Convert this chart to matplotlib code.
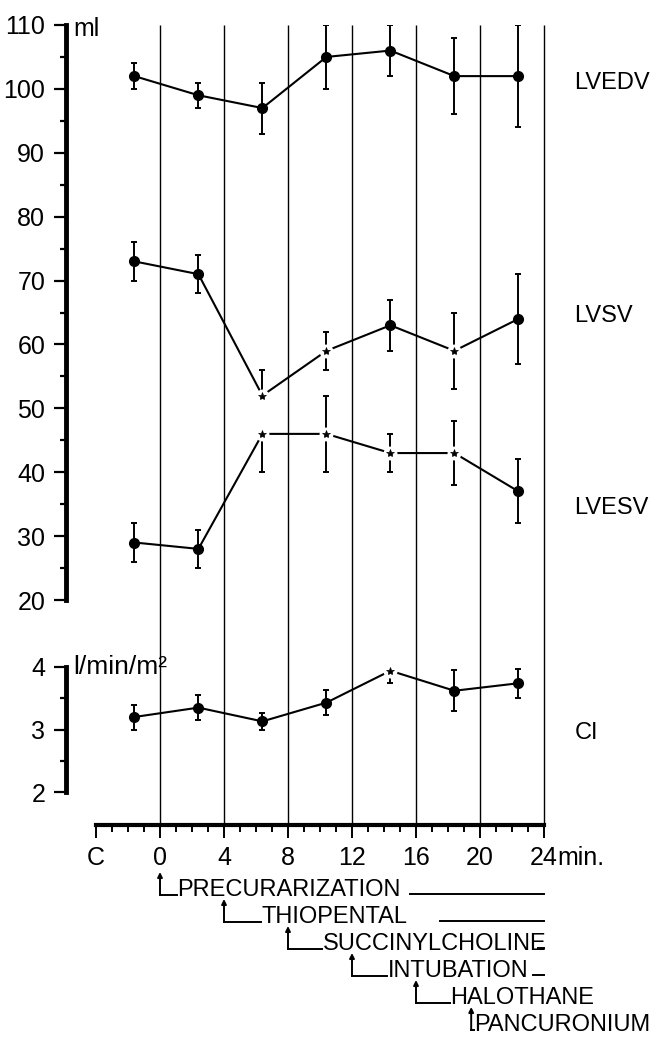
import numpy as np
import matplotlib
matplotlib.use("Agg")
import matplotlib.pyplot as plt
from matplotlib.ticker import MultipleLocator, FixedLocator

plt.rcParams['font.family'] = ['Liberation Sans', 'DejaVu Sans']

# ---- data ----
times = [-1.6, 2.4, 6.4, 10.4, 14.4, 18.4, 22.4]

lvedv = [102, 99, 97, 105, 106, 102, 102]
lvedv_lo = [2, 2, 4, 5, 4, 6, 8]
lvedv_hi = [2, 2, 4, 5, 4, 6, 8]
lvedv_sig = [0, 0, 0, 0, 0, 0, 0]

lvsv = [73, 71, 52, 59, 63, 59, 64]
lvsv_lo = [3, 3, 0, 3, 4, 6, 7]
lvsv_hi = [3, 3, 4, 3, 4, 6, 7]
lvsv_sig = [0, 0, 1, 1, 0, 1, 0]

lvesv = [29, 28, 46, 46, 43, 43, 37]
lvesv_lo = [3, 3, 6, 6, 3, 5, 5]
lvesv_hi = [3, 3, 0, 6, 3, 5, 5]
lvesv_sig = [0, 0, 1, 1, 1, 1, 0]

ci = [3.2, 3.35, 3.13, 3.43, 3.94, 3.62, 3.74]
ci_err = [0.2, 0.2, 0.13, 0.2, 0.2, 0.33, 0.23]
ci_sig = [0, 0, 0, 0, 1, 0, 0]

xticks = [-4, 0, 4, 8, 12, 16, 20, 24]
xticklabels = ['C', '0', '4', '8', '12', '16', '20', '24']

events = ['PRECURARIZATION', 'THIOPENTAL', 'SUCCINYLCHOLINE', 'INTUBATION',
          'HALOTHANE', 'PANCURONIUM']
ev_start = [0, 4, 8, 12, 16, 20]
ev_line_from = [15.6, 17.5, 23.6, 23.3, None, None]   # trailing bar to 24 min

# ---- layout helpers (pixel based) ----
W, H = 657, 1038
def rect(l, t, r, b):
    return [l / W, 1 - b / H, (r - l) / W, (b - t) / H]

FS = 17
XLIM = (-5.875, 27.5)
fig = plt.figure(figsize=(W / 100, H / 100), dpi=100)

# time axis + vertical grid lines; y in pixel rows
axt = fig.add_axes(rect(66, 25, 600, 825))
axt.set_xlim(*XLIM)
axt.set_ylim(825, 25)
for s in ['top', 'right', 'left']:
    axt.spines[s].set_visible(False)
axt.spines['bottom'].set_linewidth(3.0)
axt.spines['bottom'].set_bounds(-4, 24)
axt.set_yticks([])
axt.xaxis.set_major_locator(FixedLocator(xticks))
axt.set_xticklabels(xticklabels)
axt.xaxis.set_minor_locator(FixedLocator(np.arange(-4, 25, 1)))
axt.tick_params(axis='x', which='major', direction='out', length=9, width=1.4,
                labelsize=FS + 1, pad=6)
axt.tick_params(axis='x', which='minor', direction='out', length=5, width=1.4)
axt.vlines(xticks[1:], 25, 825, color='k', lw=1.0)
axt.text(24.85, 865, 'min.', fontsize=FS + 1, va='baseline', ha='left')

# treatment protocol under the time axis
leads = [1.05, 2.3, 2.1, 2.2, 2.1, 0.15]
for i, (name, st) in enumerate(zip(events, ev_start)):
    base = 895 + 27 * i
    xs = st - 0.55 if i == 5 else st
    axt.annotate('', xy=(xs, base - 23), xytext=(xs, base),
                 arrowprops=dict(arrowstyle='-|>', lw=1.4, color='k',
                                 mutation_scale=7, shrinkA=0, shrinkB=0),
                 annotation_clip=False)
    axt.plot([xs, xs + leads[i]], [base, base], color='k', lw=1.4, clip_on=False)
    axt.text(xs + leads[i] + 0.05, base + 1, name, fontsize=FS, va='baseline',
             ha='left')
    if ev_line_from[i] is not None:
        axt.plot([ev_line_from[i], 24], [base - 1, base - 1], color='k', lw=1.4,
                 clip_on=False)

# series labels and units
axt.text(25.9, 83, 'LVEDV', fontsize=FS, va='center')
axt.text(25.9, 316, 'LVSV', fontsize=FS, va='center')
axt.text(25.9, 508, 'LVESV', fontsize=FS, va='center')
axt.text(25.9, 733, 'CI', fontsize=FS, va='center')
axt.text(-5.4, 29, 'ml', fontsize=FS + 1, va='center')
axt.text(-5.4, 667, 'l/min/m²', fontsize=FS + 2, va='center')


def draw(ax, y, lo, hi, sig):
    ax.plot(times, y, color='k', lw=1.5, zorder=2)
    ax.errorbar(times, y, yerr=[lo, hi], fmt='none', ecolor='k', elinewidth=1.4,
                capsize=2.5, capthick=1.4, zorder=2)
    y = np.array(y)
    t = np.array(times)
    s = np.array(sig, dtype=bool)
    ax.plot(t[~s], y[~s], 'o', color='k', ms=7, zorder=3, clip_on=False)
    ax.plot(t[s], y[s], 'o', color='white', ms=9, zorder=3, clip_on=False)
    ax.plot(t[s], y[s], '*', color='k', ms=6, mew=0.5, zorder=4, clip_on=False)


def yaxis_style(ax):
    ax.set_facecolor('none')
    for s in ['top', 'right', 'bottom']:
        ax.spines[s].set_visible(False)
    ax.spines['left'].set_linewidth(3.5)
    ax.set_xticks([])
    ax.tick_params(axis='y', which='major', direction='out', length=9, width=1.6,
                   labelsize=FS + 1, pad=6)
    ax.tick_params(axis='y', which='minor', direction='out', length=4, width=1.6)


axm = fig.add_axes(rect(66, 25, 600, 600))
axm.set_xlim(*XLIM)
axm.set_ylim(20, 110)
yaxis_style(axm)
axm.yaxis.set_major_locator(MultipleLocator(10))
axm.yaxis.set_minor_locator(MultipleLocator(5))
draw(axm, lvedv, lvedv_lo, lvedv_hi, lvedv_sig)
draw(axm, lvsv, lvsv_lo, lvsv_hi, lvsv_sig)
draw(axm, lvesv, lvesv_lo, lvesv_hi, lvesv_sig)

axc = fig.add_axes(rect(66, 667, 600, 792))
axc.set_xlim(*XLIM)
axc.set_ylim(2, 4)
yaxis_style(axc)
axc.yaxis.set_major_locator(MultipleLocator(1))
axc.yaxis.set_minor_locator(MultipleLocator(0.5))
draw(axc, ci, ci_err, ci_err, ci_sig)

fig.savefig('out.png', dpi=100)
